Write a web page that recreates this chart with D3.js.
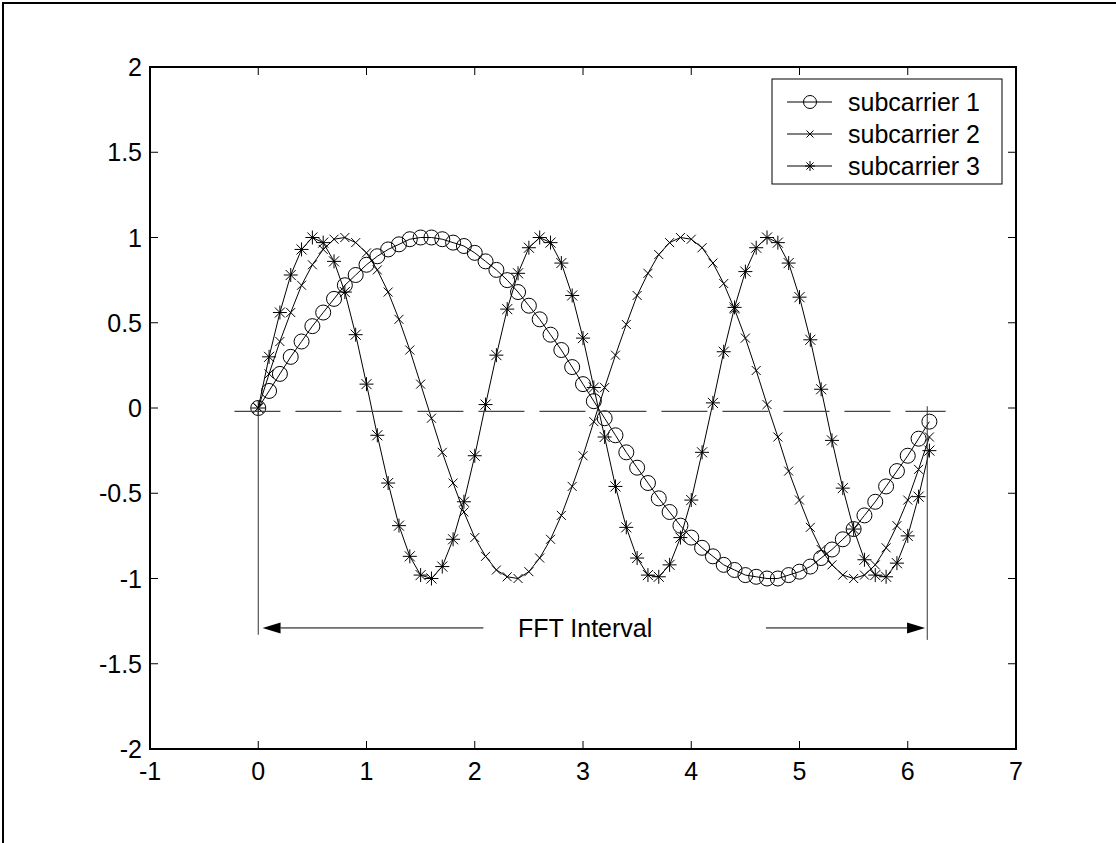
<!DOCTYPE html>
<html>
<head>
<meta charset="utf-8">
<script src="https://cdn.jsdelivr.net/npm/d3@7"></script>
<style>
  body { margin: 0; background: #fff; }
  svg { display: block; font-family: "Liberation Sans", Arial, sans-serif; }
</style>
</head>
<body>
<svg id="chart" width="1116" height="843"></svg>
<script>
// sample positions (time axis)
const tValues = [0, 0.1, 0.2, 0.3, 0.4, 0.5, 0.6, 0.7, 0.8, 0.9, 1.0, 1.1, 1.2, 1.3, 1.4, 1.5,
  1.6, 1.7, 1.8, 1.9, 2.0, 2.1, 2.2, 2.3, 2.4, 2.5, 2.6, 2.7, 2.8, 2.9, 3.0, 3.1, 3.2, 3.3,
  3.4, 3.5, 3.6, 3.7, 3.8, 3.9, 4.0, 4.1, 4.2, 4.3, 4.4, 4.5, 4.6, 4.7, 4.8, 4.9, 5.0, 5.1,
  5.2, 5.3, 5.4, 5.5, 5.6, 5.7, 5.8, 5.9, 6.0, 6.1, 6.2];

const subcarrier1 = [0, 0.10, 0.20, 0.30, 0.39, 0.48, 0.56, 0.64, 0.72, 0.78, 0.84, 0.89,
  0.93, 0.96, 0.99, 1.00, 1.00, 0.99, 0.97, 0.95, 0.91, 0.86, 0.81, 0.75, 0.68, 0.60, 0.52,
  0.43, 0.34, 0.24, 0.14, 0.04, -0.06, -0.16, -0.26, -0.35, -0.44, -0.53, -0.61, -0.69,
  -0.76, -0.82, -0.87, -0.92, -0.95, -0.98, -0.99, -1.00, -1.00, -0.98, -0.96, -0.93, -0.88,
  -0.83, -0.77, -0.71, -0.63, -0.55, -0.46, -0.37, -0.28, -0.18, -0.08];

const subcarrier2 = [0, 0.20, 0.39, 0.56, 0.72, 0.84, 0.93, 0.99, 1.00, 0.97, 0.91, 0.81,
  0.68, 0.52, 0.34, 0.14, -0.06, -0.26, -0.44, -0.61, -0.76, -0.87, -0.95, -0.99, -1.00,
  -0.96, -0.88, -0.77, -0.63, -0.46, -0.28, -0.08, 0.12, 0.31, 0.49, 0.66, 0.79, 0.90, 0.97,
  1.00, 0.99, 0.94, 0.85, 0.73, 0.58, 0.41, 0.22, 0.02, -0.17, -0.37, -0.54, -0.70, -0.83,
  -0.92, -0.98, -1.00, -0.98, -0.92, -0.82, -0.69, -0.54, -0.36, -0.17];

const subcarrier3 = [0, 0.30, 0.56, 0.78, 0.93, 1.00, 0.97, 0.86, 0.68, 0.43, 0.14, -0.16,
  -0.44, -0.69, -0.87, -0.98, -1.00, -0.93, -0.77, -0.55, -0.28, 0.02, 0.31, 0.58, 0.79,
  0.94, 1.00, 0.97, 0.85, 0.66, 0.41, 0.12, -0.17, -0.46, -0.70, -0.88, -0.98, -0.99, -0.92,
  -0.76, -0.54, -0.26, 0.03, 0.33, 0.59, 0.80, 0.94, 1.00, 0.97, 0.85, 0.65, 0.40, 0.11,
  -0.19, -0.47, -0.71, -0.89, -0.98, -0.99, -0.91, -0.75, -0.52, -0.25];

const seriesNames = ["subcarrier 1", "subcarrier 2", "subcarrier 3"];
const seriesMarkers = ["circle", "cross", "star"];

const xTicks = [-1, 0, 1, 2, 3, 4, 5, 6, 7];
const yTicks = [-2, -1.5, -1, -0.5, 0, 0.5, 1, 1.5, 2];

// annotation (data units)
const zeroLine = [[-0.22, -0.02], [6.35, -0.02]];
const intervalEdges = [[0, 0, -1.33], [6.18, 0.01, -1.36]];
const arrowY = -1.29;
const arrowLeft = [2.08, 0.04];
const arrowRight = [4.69, 6.16];
const intervalLabel = { text: "FFT Interval", x: 3.02, y: -1.29 };

const svg = d3.select("#chart");
const axLeft = 150, axRight = 1016, axTop = 67, axBottom = 749;

const x = d3.scaleLinear().domain([-1, 7]).range([axLeft, axRight]);
const y = d3.scaleLinear().domain([-2, 2]).range([axBottom, axTop]);

// figure frame
svg.append("path")
  .attr("d", "M3,843 L3,3 L1116,3")
  .attr("fill", "none")
  .attr("stroke", "#000")
  .attr("stroke-width", 2);

// axes: ticks inward on all four sides
const ax = svg.append("g");
const tickLen = 8;
ax.selectAll(".xt").data(xTicks).join("path")
  .attr("d", d => `M${x(d)},${axBottom} v${-tickLen} M${x(d)},${axTop} v${tickLen}`)
  .attr("stroke", "#000").attr("stroke-width", 1);
ax.selectAll(".yt").data(yTicks).join("path")
  .attr("d", d => `M${axLeft},${y(d)} h${tickLen} M${axRight},${y(d)} h${-tickLen}`)
  .attr("stroke", "#000").attr("stroke-width", 1);

ax.selectAll(".xl").data(xTicks).join("text")
  .attr("x", d => x(d)).attr("y", axBottom + 31)
  .attr("text-anchor", "middle")
  .attr("font-size", 25)
  .text(d => d);
ax.selectAll(".yl").data(yTicks).join("text")
  .attr("x", axLeft - 8).attr("y", d => y(d))
  .attr("dy", "0.36em")
  .attr("text-anchor", "end")
  .attr("font-size", 25)
  .text(d => d);

// markers
function markerPath(type, s) {
  if (type === "cross") {
    return `M${-s},${-s}L${s},${s}M${-s},${s}L${s},${-s}`;
  }
  if (type === "star") {
    const d = s * 0.72;
    return `M${-s},0L${s},0M0,${-s}L0,${s}M${-d},${-d}L${d},${d}M${-d},${d}L${d},${-d}`;
  }
  return null;
}

function drawMarkers(g, pts, type, size) {
  if (type === "circle") {
    g.selectAll("circle").data(pts).join("circle")
      .attr("cx", d => d[0]).attr("cy", d => d[1])
      .attr("r", size)
      .attr("fill", "none").attr("stroke", "#000").attr("stroke-width", 1);
  } else {
    g.selectAll("path.m").data(pts).join("path")
      .attr("class", "m")
      .attr("transform", d => `translate(${d[0]},${d[1]})`)
      .attr("d", markerPath(type, size))
      .attr("fill", "none").attr("stroke", "#000").attr("stroke-width", 1);
  }
}

const line = d3.line();
const allSeries = [subcarrier1, subcarrier2, subcarrier3];
const markerSize = { circle: 7.5, cross: 4.5, star: 7 };

allSeries.forEach((vals, i) => {
  const pts = tValues.map((t, k) => [x(t), y(vals[k])]);
  const g = svg.append("g");
  g.append("path")
    .attr("d", line(pts))
    .attr("fill", "none").attr("stroke", "#000").attr("stroke-width", 1);
  drawMarkers(g, pts, seriesMarkers[i], markerSize[seriesMarkers[i]]);
});

// annotations
const ann = svg.append("g");
ann.append("path")
  .attr("d", line(zeroLine.map(p => [x(p[0]), y(p[1])])))
  .attr("stroke", "#444").attr("stroke-width", 1.2)
  .attr("stroke-dasharray", "46,15")
  .attr("fill", "none");

ann.selectAll(".edge").data(intervalEdges).join("path")
  .attr("d", d => `M${x(d[0])},${y(d[1])}V${y(d[2])}`)
  .attr("stroke", "#333").attr("stroke-width", 1);

function arrow(from, to) {
  const x0 = x(from), x1 = x(to), yy = y(arrowY);
  const dir = Math.sign(x1 - x0);
  const hl = 18, hw = 5.5;
  ann.append("path")
    .attr("d", `M${x0},${yy}H${x1 - dir * hl}`)
    .attr("stroke", "#000").attr("stroke-width", 1);
  ann.append("path")
    .attr("d", `M${x1},${yy}L${x1 - dir * hl},${yy - hw}L${x1 - dir * hl},${yy + hw}Z`)
    .attr("fill", "#000");
}
arrow(arrowLeft[0], arrowLeft[1]);
arrow(arrowRight[0], arrowRight[1]);

ann.append("text")
  .attr("x", x(intervalLabel.x)).attr("y", y(intervalLabel.y))
  .attr("dy", "0.36em")
  .attr("text-anchor", "middle")
  .attr("font-size", 25)
  .text(intervalLabel.text);

// axes outline
svg.append("rect")
  .attr("x", axLeft).attr("y", axTop)
  .attr("width", axRight - axLeft).attr("height", axBottom - axTop)
  .attr("fill", "none").attr("stroke", "#000").attr("stroke-width", 2);

// legend
const lg = svg.append("g");
lg.append("rect")
  .attr("x", 772).attr("y", 79).attr("width", 230).attr("height", 105)
  .attr("fill", "#fff").attr("stroke", "#000").attr("stroke-width", 1);
const legendSize = { circle: 6.5, cross: 3.5, star: 5 };
seriesNames.forEach((name, i) => {
  const cy = 102 + i * 32;
  lg.append("path").attr("d", `M787,${cy}H832`).attr("stroke", "#000").attr("stroke-width", 1);
  drawMarkers(lg.append("g"), [[810, cy]], seriesMarkers[i], legendSize[seriesMarkers[i]]);
  lg.append("text")
    .attr("x", 848).attr("y", cy).attr("dy", "0.36em")
    .attr("font-size", 25)
    .text(name);
});
</script>
</body>
</html>
